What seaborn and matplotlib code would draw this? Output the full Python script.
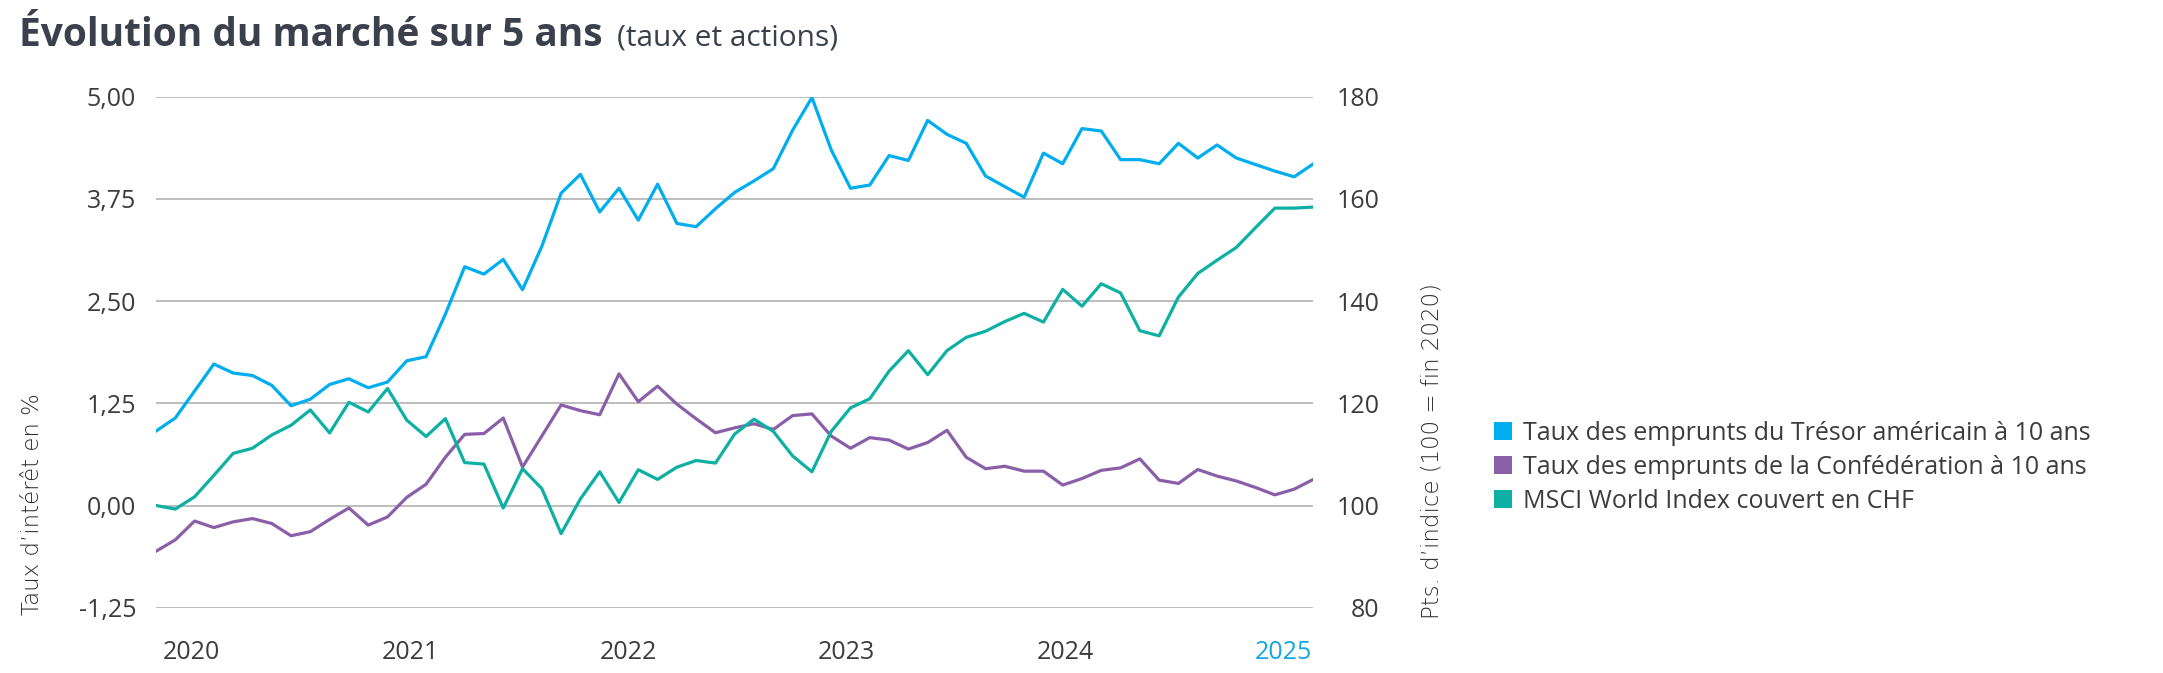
import matplotlib
matplotlib.use("Agg")
import matplotlib.pyplot as plt
import seaborn as sns
import numpy as np
import pandas as pd
from matplotlib.lines import Line2D

# ---------------- data ----------------
us_treasury_10y = [0.91, 1.07, 1.40, 1.73, 1.62, 1.59, 1.47, 1.22, 1.30, 1.48,
                   1.55, 1.44, 1.51, 1.77, 1.82, 2.34, 2.92, 2.83, 3.01, 2.64,
                   3.17, 3.82, 4.05, 3.59, 3.88, 3.49, 3.93, 3.45, 3.41, 3.63,
                   3.83, 3.97, 4.12, 4.59, 4.99, 4.35, 3.88, 3.92, 4.28, 4.22,
                   4.71, 4.54, 4.43, 4.03, 3.90, 3.77, 4.31, 4.18, 4.61, 4.58,
                   4.23, 4.23, 4.18, 4.43, 4.25, 4.41, 4.25, 4.17, 4.09, 4.02,
                   4.18]
swiss_conf_10y = [-0.56, -0.42, -0.19, -0.27, -0.20, -0.16, -0.22, -0.37, -0.32, -0.17,
                  -0.03, -0.24, -0.14, 0.10, 0.26, 0.59, 0.87, 0.88, 1.07, 0.47,
                  0.85, 1.23, 1.16, 1.11, 1.61, 1.27, 1.46, 1.24, 1.06, 0.89,
                  0.95, 1.00, 0.93, 1.10, 1.12, 0.85, 0.70, 0.83, 0.80, 0.69,
                  0.77, 0.92, 0.59, 0.45, 0.48, 0.42, 0.42, 0.25, 0.33, 0.43,
                  0.46, 0.57, 0.31, 0.27, 0.44, 0.36, 0.30, 0.22, 0.13, 0.20,
                  0.32]
msci_world_chf = [100.0, 99.3, 101.7, 105.9, 110.2, 111.2, 113.8, 115.7, 118.7, 114.2,
                  120.2, 118.3, 122.9, 116.7, 113.5, 117.0, 108.4, 108.1, 99.5, 107.2,
                  103.3, 94.5, 101.3, 106.6, 100.6, 107.0, 105.1, 107.5, 108.8, 108.3,
                  114.0, 116.9, 114.5, 109.7, 106.6, 114.5, 119.1, 120.9, 126.3, 130.3,
                  125.6, 130.3, 132.9, 134.1, 136.0, 137.6, 135.9, 142.3, 139.0, 143.4,
                  141.6, 134.2, 133.2, 140.8, 145.4, 148.0, 150.5, 154.4, 158.2, 158.2,
                  158.4]
series_labels = ["Taux des emprunts du Trésor américain à 10 ans",
                 "Taux des emprunts de la Confédération à 10 ans",
                 "MSCI World Index couvert en CHF"]
year_labels = ["2020", "2021", "2022", "2023", "2024", "2025"]
left_ticks = [-1.25, 0.0, 1.25, 2.50, 3.75, 5.00]
left_tick_labels = ["-1,25", "0,00", "1,25", "2,50", "3,75", "5,00"]
right_ticks = [80, 100, 120, 140, 160, 180]
right_tick_labels = ["80", "100", "120", "140", "160", "180"]

# ---------------- style ----------------
BLUE, PURPLE, TEAL = "#00aeef", "#8a5fa8", "#0db0a3"
TXT = "#3c3c3c"
TITLE_C = "#3a404c"
W, H, DPI = 2163, 673, 100
TICK_FS = 18

sns.set_theme(style="white")
plt.rcParams["font.family"] = ["Open Sans", "DejaVu Sans"]

def fx(px):
    return px / W

def fy(py):
    return 1 - py / H

fig = plt.figure(figsize=(W / DPI, H / DPI), dpi=DPI)
fig.patch.set_facecolor("white")
ax = fig.add_axes([fx(156), fy(607.7), (1313.5 - 156) / W, (607.7 - 96.7) / H])
ax2 = ax.twinx()

df = pd.DataFrame({"month": np.arange(len(us_treasury_10y)),
                   "us": us_treasury_10y, "ch": swiss_conf_10y, "msci": msci_world_chf})

sns.lineplot(data=df, x="month", y="us", ax=ax, color=BLUE, linewidth=2.3)
sns.lineplot(data=df, x="month", y="ch", ax=ax, color=PURPLE, linewidth=2.3)
sns.lineplot(data=df, x="month", y="msci", ax=ax2, color=TEAL, linewidth=2.3)

ax.set_xlim(df["month"].min(), df["month"].max())
ax.set_ylim(-1.25, 5.0)
ax2.set_ylim(80, 180)

ax.set_yticks(left_ticks)
ax.set_yticklabels(left_tick_labels)
ax2.set_yticks(right_ticks)
ax2.set_yticklabels(right_tick_labels)

n = len(year_labels)
year_pos = np.linspace(1.85, 58.45, n)
ax.set_xticks(year_pos)
ax.set_xticklabels(year_labels)

ax.grid(axis="y", color="#bdbdbd", linewidth=1.4)
ax.grid(axis="x", visible=False)
ax2.grid(False)
for a in (ax, ax2):
    for s in a.spines.values():
        s.set_visible(False)
    a.set_xlabel("")
    a.set_ylabel("")

ax.tick_params(axis="y", length=0, pad=14.4, labelsize=TICK_FS, labelcolor=TXT)
ax.tick_params(axis="x", length=0, pad=23, labelsize=TICK_FS, labelcolor=TXT)
ax2.tick_params(axis="y", length=0, pad=47.5, labelsize=TICK_FS, labelcolor=TXT)
for t in ax2.get_yticklabels():
    t.set_horizontalalignment("right")
ax.get_xticklabels()[-1].set_color("#12a6e3")

# legend
handles = [Line2D([], [], marker="s", linestyle="none", markersize=13,
                  markerfacecolor=c, markeredgewidth=0) for c in (BLUE, PURPLE, TEAL)]
fig.legend(handles, series_labels, loc="upper left", bbox_to_anchor=(fx(1490), fy(421)),
           frameon=False, fontsize=18, handletextpad=0.32, labelspacing=0.36,
           borderpad=0, borderaxespad=0, handlelength=1.0, labelcolor=TXT)

# axis titles
fig.text(fx(33), fy(615), "Taux d’intérêt en %", rotation=90, ha="center", va="bottom",
         fontsize=16.5, color="#2e2e2e", family=["DejaVu Sans"], fontweight=200)
fig.text(fx(1432), fy(619), "Pts. d’indice (100 = fin 2020)", rotation=90, ha="center",
         va="bottom", fontsize=16.5, color="#2e2e2e", family=["DejaVu Sans"], fontweight=200)

# title
t = fig.text(fx(19), fy(46), "Évolution du marché sur 5 ans", fontsize=28,
             fontweight="bold", color=TITLE_C, va="baseline")
r = fig.canvas.get_renderer()
bb = t.get_window_extent(r)
fig.text((bb.x1 + 14) / W, fy(46), "(taux et actions)", fontsize=21.5,
         color=TITLE_C, va="baseline")

fig.savefig("out.png", dpi=DPI, facecolor="white")
